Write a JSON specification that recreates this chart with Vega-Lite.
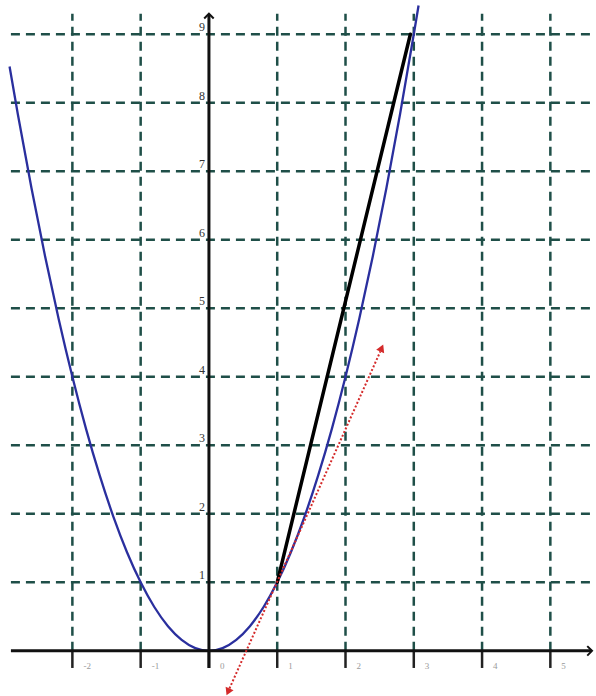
{
  "$schema": "https://vega.github.io/schema/vega-lite/v6.json",
  "width": 596,
  "height": 696,
  "autosize": {"type": "fit", "contains": "padding"},
  "padding": 0,
  "background": "white",
  "config": {"view": {"stroke": null}},
  "datasets": {
    "gridV": [{"x": -2, "y": 0, "x2": -2, "y2": 9.3}, {"x": -1, "y": 0, "x2": -1, "y2": 9.3}, {"x": 1, "y": 0, "x2": 1, "y2": 9.3}, {"x": 2, "y": 0, "x2": 2, "y2": 9.3}, {"x": 3, "y": 0, "x2": 3, "y2": 9.3}, {"x": 4, "y": 0, "x2": 4, "y2": 9.3}, {"x": 5, "y": 0, "x2": 5, "y2": 9.3}],
    "gridH": [{"x": -2.9, "y": 1, "x2": 5.63, "y2": 1}, {"x": -2.9, "y": 2, "x2": 5.63, "y2": 2}, {"x": -2.9, "y": 3, "x2": 5.63, "y2": 3}, {"x": -2.9, "y": 4, "x2": 5.63, "y2": 4}, {"x": -2.9, "y": 5, "x2": 5.63, "y2": 5}, {"x": -2.9, "y": 6, "x2": 5.63, "y2": 6}, {"x": -2.9, "y": 7, "x2": 5.63, "y2": 7}, {"x": -2.9, "y": 8, "x2": 5.63, "y2": 8}, {"x": -2.9, "y": 9, "x2": 5.63, "y2": 9}],
    "ticks": [{"x": -2, "y": 0, "x2": -2, "y2": -0.25, "label": "-2"}, {"x": -1, "y": 0, "x2": -1, "y2": -0.25, "label": "-1"}, {"x": 0, "y": 0, "x2": 0, "y2": -0.25, "label": "0"}, {"x": 1, "y": 0, "x2": 1, "y2": -0.25, "label": "1"}, {"x": 2, "y": 0, "x2": 2, "y2": -0.25, "label": "2"}, {"x": 3, "y": 0, "x2": 3, "y2": -0.25, "label": "3"}, {"x": 4, "y": 0, "x2": 4, "y2": -0.25, "label": "4"}, {"x": 5, "y": 0, "x2": 5, "y2": -0.25, "label": "5"}],
    "ylabels": [{"x": 0, "y": 1, "label": "1"}, {"x": 0, "y": 2, "label": "2"}, {"x": 0, "y": 3, "label": "3"}, {"x": 0, "y": 4, "label": "4"}, {"x": 0, "y": 5, "label": "5"}, {"x": 0, "y": 6, "label": "6"}, {"x": 0, "y": 7, "label": "7"}, {"x": 0, "y": 8, "label": "8"}, {"x": 0, "y": 9, "label": "9"}],
    "axes": [{"x": -2.9, "y": 0, "x2": 5.6, "y2": 0}, {"x": 0, "y": -0.25, "x2": 0, "y2": 9.29}],
    "arrowX": [{"x": 5.61, "y": 0}],
    "arrowY": [{"x": 0, "y": 9.3}],
    "curve": [{"x": -2.92, "y": 8.53}, {"x": -2.8, "y": 7.84}, {"x": -2.6, "y": 6.76}, {"x": -2.4, "y": 5.76}, {"x": -2.2, "y": 4.84}, {"x": -2.0, "y": 4.0}, {"x": -1.8, "y": 3.24}, {"x": -1.6, "y": 2.56}, {"x": -1.4, "y": 1.96}, {"x": -1.2, "y": 1.44}, {"x": -1.0, "y": 1.0}, {"x": -0.8, "y": 0.64}, {"x": -0.6, "y": 0.36}, {"x": -0.4, "y": 0.16}, {"x": -0.2, "y": 0.04}, {"x": 0, "y": 0}, {"x": 0.2, "y": 0.04}, {"x": 0.4, "y": 0.16}, {"x": 0.6, "y": 0.36}, {"x": 0.8, "y": 0.64}, {"x": 1.0, "y": 1.0}, {"x": 1.2, "y": 1.44}, {"x": 1.4, "y": 1.96}, {"x": 1.6, "y": 2.56}, {"x": 1.8, "y": 3.24}, {"x": 2.0, "y": 4.0}, {"x": 2.2, "y": 4.84}, {"x": 2.4, "y": 5.76}, {"x": 2.6, "y": 6.76}, {"x": 2.8, "y": 7.84}, {"x": 3.0, "y": 9.0}, {"x": 3.07, "y": 9.42}],
    "secant": [{"x": 1, "y": 1, "x2": 2.95, "y2": 9}],
    "tangent": [{"x": 0.3, "y": -0.55, "x2": 2.51, "y2": 4.37}],
    "tipUp": [{"x": 2.53, "y": 4.42}],
    "tipDown": [{"x": 0.28, "y": -0.6}]
  },
  "encoding": {
    "x": {"field": "x", "type": "quantitative", "scale": {"domain": [-3.06, 5.61], "nice": false, "zero": false}, "axis": null},
    "y": {"field": "y", "type": "quantitative", "scale": {"domain": [-0.63, 9.5], "nice": false, "zero": false}, "axis": null}
  },
  "layer": [
    {"data": {"name": "gridV"}, "mark": {"type": "rule", "color": "#1f4f48", "strokeWidth": 2.5, "strokeDash": [9, 6]}, "encoding": {"x2": {"field": "x2"}, "y2": {"field": "y2"}}},
    {"data": {"name": "gridH"}, "mark": {"type": "rule", "color": "#1f4f48", "strokeWidth": 2.5, "strokeDash": [9, 6]}, "encoding": {"x2": {"field": "x2"}, "y2": {"field": "y2"}}},
    {"data": {"name": "ticks"}, "mark": {"type": "rule", "color": "#222222", "strokeWidth": 2.5}, "encoding": {"x2": {"field": "x2"}, "y2": {"field": "y2"}}},
    {"data": {"name": "ticks"}, "mark": {"type": "text", "color": "#9a9a9a", "fontSize": 9, "font": "Liberation Serif", "align": "left", "baseline": "top", "dx": 11, "dy": 11}, "encoding": {"text": {"field": "label"}}},
    {"data": {"name": "ylabels"}, "mark": {"type": "text", "color": "#333333", "fontSize": 12, "font": "Liberation Serif", "align": "right", "baseline": "bottom", "dx": -4, "dy": 0}, "encoding": {"text": {"field": "label"}}},
    {"data": {"name": "curve"}, "mark": {"type": "line", "color": "#2a2f9e", "strokeWidth": 2.3, "interpolate": "monotone"}, "encoding": {"order": {"field": "x"}}},
    {"data": {"name": "axes"}, "mark": {"type": "rule", "color": "#111111", "strokeWidth": 3}, "encoding": {"x2": {"field": "x2"}, "y2": {"field": "y2"}}},
    {"data": {"name": "arrowX"}, "mark": {"type": "point", "shape": "M -1 -1 L 0 0 L -1 1", "filled": false, "stroke": "#111111", "strokeWidth": 2, "size": 90, "opacity": 1}},
    {"data": {"name": "arrowY"}, "mark": {"type": "point", "shape": "M -1 1 L 0 0 L 1 1", "filled": false, "stroke": "#111111", "strokeWidth": 2, "size": 90, "opacity": 1}},
    {"data": {"name": "secant"}, "mark": {"type": "rule", "color": "#000000", "strokeWidth": 3.5, "strokeCap": "round"}, "encoding": {"x2": {"field": "x2"}, "y2": {"field": "y2"}}},
    {"data": {"name": "tangent"}, "mark": {"type": "rule", "color": "#d42a2a", "strokeWidth": 2, "strokeDash": [2, 2]}, "encoding": {"x2": {"field": "x2"}, "y2": {"field": "y2"}}},
    {"data": {"name": "tipUp"}, "mark": {"type": "point", "shape": "triangle-up", "filled": true, "color": "#d42a2a", "size": 75, "angle": 24, "opacity": 1}},
    {"data": {"name": "tipDown"}, "mark": {"type": "point", "shape": "triangle-up", "filled": true, "color": "#d42a2a", "size": 75, "angle": 204, "opacity": 1}}
  ]
}
